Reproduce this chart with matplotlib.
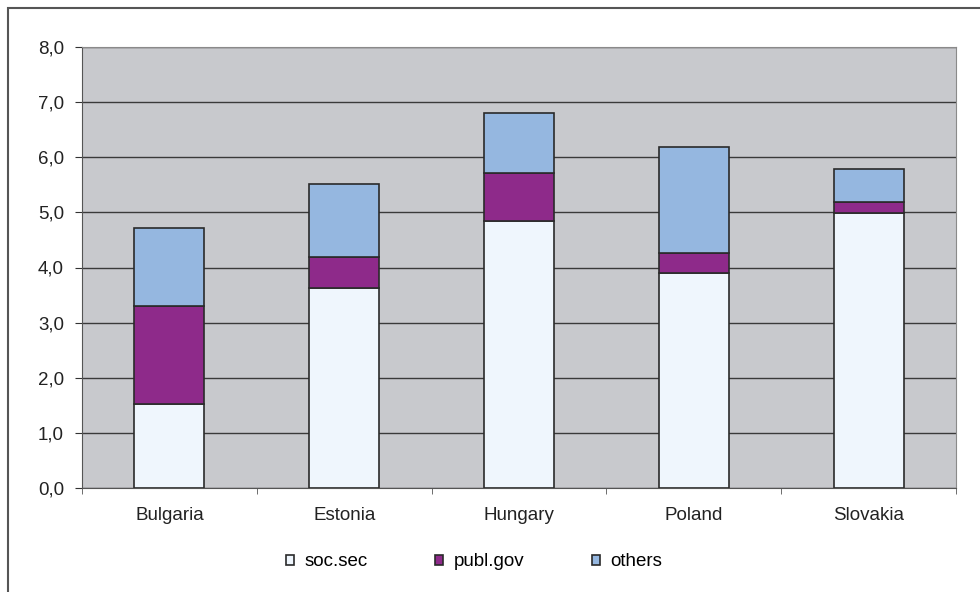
import matplotlib
matplotlib.use("Agg")
import matplotlib.pyplot as plt
from matplotlib.patches import Rectangle
from matplotlib.ticker import FuncFormatter, MultipleLocator
import numpy as np

paises = ["Bulgaria", "Estonia", "Hungary", "Poland", "Slovakia"]
soc_sec = [1.52, 3.62, 4.85, 3.90, 4.99]
publ_gov = [1.78, 0.57, 0.87, 0.36, 0.20]
others = [1.42, 1.33, 1.09, 1.93, 0.60]

plt.rcParams["font.family"] = ["Liberation Sans", "DejaVu Sans"]
TAM = 13.5

fig = plt.figure(figsize=(9.8, 5.92), dpi=100)
ax = fig.add_axes([82 / 980, 104 / 592, 874 / 980, 441 / 592])
ax.set_facecolor("#c8c9cd")

x = np.arange(len(paises))
ancho = 0.4
borde = dict(edgecolor="#2a2a2a", linewidth=1.2, zorder=3)
ax.bar(x, soc_sec, ancho, color="#eff6fd", label="soc.sec", **borde)
ax.bar(x, publ_gov, ancho, bottom=soc_sec, color="#8e2a8a", label="publ.gov", **borde)
base = [a + b for a, b in zip(soc_sec, publ_gov)]
ax.bar(x, others, ancho, bottom=base, color="#95b7e0", label="others", **borde)

ax.set_xlim(-0.5, len(paises) - 0.5)
ax.set_ylim(0, 8)
ax.yaxis.set_major_locator(MultipleLocator(1))
ax.yaxis.set_major_formatter(FuncFormatter(lambda v, p: f"{v:.1f}".replace(".", ",")))
ax.grid(axis="y", color="#3a3a3a", linewidth=1.0, zorder=1)
ax.set_axisbelow(True)

ax.set_xticks(x)
ax.set_xticklabels(paises)
ax.set_xticks(np.arange(-0.5, len(paises)), minor=True)
ax.tick_params(axis="x", which="major", length=0, pad=14, labelsize=TAM, colors="#222222")
ax.tick_params(axis="x", which="minor", length=4, color="#555555")
ax.tick_params(axis="y", length=5, color="#333333", labelsize=TAM, labelcolor="#222222", pad=8)

for lado in ["left", "bottom"]:
    ax.spines[lado].set_color("#555555")
for lado in ["top", "right"]:
    ax.spines[lado].set_color("#8a8a8a")

# marco exterior del gráfico
fig.patches.append(Rectangle((8 / 980, -0.02), 1.0, 1 - 8 / 592 + 0.02,
                             transform=fig.transFigure, fill=False,
                             edgecolor="#555555", linewidth=1.5))

fig.legend(loc="center", bbox_to_anchor=(474 / 980, 1 - 562 / 592), ncol=3,
           frameon=False, fontsize=TAM, handlelength=0.45, handleheight=0.45,
           columnspacing=3.6, handletextpad=0.55)

fig.savefig("out.png", dpi=100)
